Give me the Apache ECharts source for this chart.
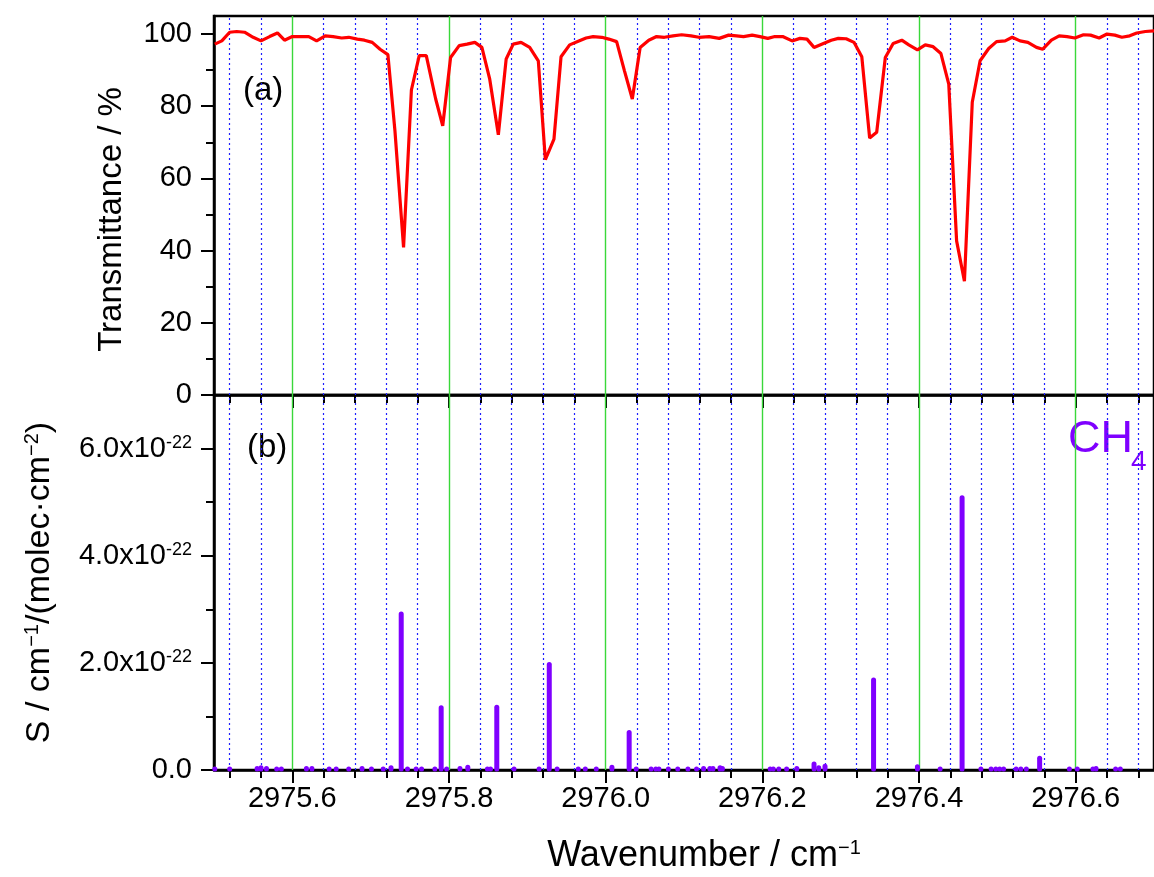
<!DOCTYPE html>
<html><head><meta charset="utf-8">
<script src="https://cdn.jsdelivr.net/npm/echarts@6/dist/echarts.min.js"></script>
<style>html,body{margin:0;padding:0;overflow:hidden;background:#fff}#c{width:1154px;height:877px}</style>
</head><body><div id="c"></div>
<script>
// ---- (a) measured transmittance spectrum ----
const transWavenumber = [
  2975.501, 2975.510, 2975.520, 2975.529, 2975.539, 2975.550, 2975.560, 2975.571, 2975.581, 2975.590,
  2975.600, 2975.611, 2975.621, 2975.631, 2975.642, 2975.652, 2975.663, 2975.672, 2975.683, 2975.692,
  2975.702, 2975.712, 2975.722, 2975.731, 2975.742, 2975.752, 2975.762, 2975.771, 2975.783, 2975.792,
  2975.802, 2975.813, 2975.823, 2975.833, 2975.842, 2975.852, 2975.863, 2975.873, 2975.882, 2975.892,
  2975.903, 2975.914, 2975.923, 2975.934, 2975.943, 2975.954, 2975.965, 2975.975, 2975.984, 2975.995,
  2976.004, 2976.014, 2976.024, 2976.034, 2976.044, 2976.055, 2976.065, 2976.075, 2976.086, 2976.097,
  2976.109, 2976.119, 2976.132, 2976.145, 2976.157, 2976.167, 2976.176, 2976.187, 2976.197, 2976.207,
  2976.216, 2976.226, 2976.238, 2976.248, 2976.257, 2976.266, 2976.278, 2976.288, 2976.297, 2976.307,
  2976.317, 2976.327, 2976.337, 2976.346, 2976.357, 2976.367, 2976.378,
  2976.387, 2976.398, 2976.408, 2976.418, 2976.428, 2976.438, 2976.448, 2976.458, 2976.468, 2976.478,
  2976.489, 2976.499, 2976.510, 2976.519, 2976.529, 2976.539, 2976.550, 2976.558, 2976.569, 2976.579,
  2976.589, 2976.599, 2976.610, 2976.619, 2976.630, 2976.640, 2976.650, 2976.659, 2976.669, 2976.678,
  2976.689, 2976.700
];
const transmittance = [
  97.2, 98.1, 100.5, 100.7, 100.5, 99.1, 98.1, 99.3, 100.3, 98.3,
  99.3, 99.3, 99.3, 98.1, 99.5, 99.3, 98.9, 99.1, 98.6, 98.3,
  97.7, 95.8, 94.3, 73.2, 40.9, 84.5, 94.0, 94.0, 82.0, 74.6,
  93.5, 96.8, 97.2, 97.7, 96.3, 87.5, 72.1, 93.1, 97.2, 97.7,
  96.3, 92.6, 65.2, 70.9, 93.7, 97.0, 98.0, 98.9, 99.3, 99.1,
  98.6, 97.9, 89.8, 82.0, 96.3, 98.3, 99.3, 99.1, 99.5, 99.8,
  99.5, 99.1, 99.3, 98.8, 99.7, 99.5, 99.3, 99.7, 99.3, 98.8,
  99.3, 99.3, 98.1, 98.8, 98.6, 96.3, 97.4, 98.3, 98.8, 98.7,
  97.7, 93.7, 71.2, 72.8, 93.5, 97.4, 98.3,
  97.0, 95.6, 97.0, 96.5, 94.6, 86.1, 42.7, 31.5, 81.1, 92.6,
  96.0, 97.9, 98.1, 99.1, 98.1, 97.7, 96.3, 95.8, 98.3, 99.5,
  99.3, 98.9, 99.8, 99.7, 98.9, 100.0, 99.7, 99.1, 99.5, 100.3,
  100.7, 100.9
];

// ---- (b) CH4 line intensities, in units of 1e-22 cm-1/(molec cm-2) ----
const lineWavenumber = [
  2975.501, 2975.520, 2975.555, 2975.560, 2975.567, 2975.580, 2975.586, 2975.618, 2975.625, 2975.647,
  2975.656, 2975.672, 2975.689, 2975.701, 2975.716, 2975.726, 2975.739, 2975.747, 2975.758, 2975.765,
  2975.782, 2975.790, 2975.797, 2975.814, 2975.824, 2975.849, 2975.853, 2975.861, 2975.883, 2975.915,
  2975.928, 2975.938, 2975.965, 2975.974, 2975.988, 2976.008, 2976.030, 2976.039, 2976.058, 2976.064,
  2976.068, 2976.080, 2976.092, 2976.105, 2976.116, 2976.125, 2976.133, 2976.137, 2976.146, 2976.149,
  2976.210, 2976.214, 2976.221, 2976.231, 2976.244, 2976.266, 2976.272, 2976.280, 2976.342, 2976.398,
  2976.427, 2976.455, 2976.479, 2976.492, 2976.498, 2976.503, 2976.508, 2976.524, 2976.530, 2976.537,
  2976.554, 2976.592, 2976.602, 2976.622, 2976.626, 2976.651, 2976.657
];
const lineStrength = [
  0.02, 0.02, 0.03, 0.04, 0.03, 0.02, 0.02, 0.03, 0.03, 0.02,
  0.02, 0.02, 0.03, 0.02, 0.02, 0.04, 2.91, 0.02, 0.02, 0.02,
  0.02, 1.16, 0.02, 0.03, 0.05, 0.02, 0.02, 1.17, 0.02, 0.02,
  1.97, 0.02, 0.02, 0.02, 0.02, 0.05, 0.70, 0.02, 0.02, 0.02,
  0.02, 0.02, 0.02, 0.02, 0.02, 0.03, 0.03, 0.03, 0.04, 0.03,
  0.02, 0.02, 0.02, 0.02, 0.03, 0.11, 0.04, 0.07, 1.68, 0.06,
  0.02, 5.08, 0.02, 0.02, 0.02, 0.02, 0.02, 0.02, 0.02, 0.02,
  0.22, 0.02, 0.02, 0.02, 0.03, 0.02, 0.02
];

// ---- axis ticks ----
const xMajorTicks = [2975.6, 2975.8, 2976.0, 2976.2, 2976.4, 2976.6];
const xMinorTicks = [2975.52, 2975.56, 2975.64, 2975.68, 2975.72, 2975.76, 2975.84, 2975.88, 2975.92, 2975.96,
  2976.04, 2976.08, 2976.12, 2976.16, 2976.24, 2976.28, 2976.32, 2976.36, 2976.44, 2976.48,
  2976.52, 2976.56, 2976.64, 2976.68];
const yTopMajor = [0, 20, 40, 60, 80, 100];
const yTopMinor = [10, 30, 50, 70, 90];
const yBotMajor = [0, 2, 4, 6];
const yBotMinor = [1, 3, 5];

const FONT = 'Liberation Sans, Arial, sans-serif';
const X_MIN = 2975.5, X_MAX = 2976.7;
const PURPLE = '#7f00ff';

const transData = transWavenumber.map((x, i) => [x, transmittance[i]]);
const lineData = lineWavenumber.map((x, i) => [x, lineStrength[i]]);

function gridLineMarks() {
  const d = [];
  xMinorTicks.forEach(v => d.push({xAxis: v, lineStyle: {color: '#1f1fff', width: 1.2, type: [2, 3]}}));
  xMajorTicks.forEach(v => d.push({xAxis: v, lineStyle: {color: '#3ad83a', width: 1.4, type: 'solid'}}));
  return d;
}

const supRich = {s: {fontFamily: FONT, fontSize: 20, color: '#000', verticalAlign: 'top', padding: [0, 0, 16, 0]}};

function xAxisPair(gridIndex, withLabels) {
  const common = {
    gridIndex, type: 'value', min: X_MIN, max: X_MAX, position: 'bottom',
    splitLine: {show: false}
  };
  return [
    Object.assign({}, common, {
      axisLine: {show: true, lineStyle: {color: '#000', width: 2.5}},
      axisTick: {show: true, inside: false, length: 13, lineStyle: {color: '#000', width: 2}, customValues: xMajorTicks},
      axisLabel: withLabels ? {
        show: true, customValues: xMajorTicks, margin: 14,
        fontFamily: FONT, fontSize: 29, color: '#000',
        formatter: v => v.toFixed(1)
      } : {show: false},
      name: withLabels ? 'Wavenumber / cm{s|−1}' : '',
      nameLocation: 'middle', nameGap: 68,
      nameTextStyle: {fontFamily: FONT, fontSize: 36, color: '#000', padding: [0, 0, 0, 40], rich: supRich}
    }),
    Object.assign({}, common, {
      axisLine: {show: false},
      axisTick: {show: true, inside: false, length: 8, lineStyle: {color: '#000', width: 2}, customValues: xMinorTicks},
      axisLabel: {show: false}
    })
  ];
}

function yAxisPair(gridIndex, max, major, minor, labelFmt, name, nameGap, nameSize, namePad, rich) {
  return [
    {
      gridIndex, type: 'value', min: 0, max, position: 'left',
      splitLine: {show: false},
      axisLine: {show: true, lineStyle: {color: '#000', width: 2.5}},
      axisTick: {show: true, inside: false, length: 13, lineStyle: {color: '#000', width: 2}, customValues: major},
      axisLabel: {show: true, customValues: major, margin: 22, fontFamily: FONT, fontSize: 29, color: '#000',
        formatter: labelFmt, rich},
      name, nameLocation: 'middle', nameGap,
      nameTextStyle: {fontFamily: FONT, fontSize: nameSize, color: '#000', padding: namePad, rich: supRich}
    },
    {
      gridIndex, type: 'value', min: 0, max, position: 'left',
      splitLine: {show: false},
      axisLine: {show: false},
      axisTick: {show: true, inside: false, length: 8, lineStyle: {color: '#000', width: 2}, customValues: minor},
      axisLabel: {show: false}
    }
  ];
}

const chart = echarts.init(document.getElementById('c'), null, {renderer: 'canvas'});
chart.setOption({
  animation: false,
  backgroundColor: '#fff',
  grid: [
    {left: 214, top: 16, width: 948, height: 379, show: true, borderColor: '#000', borderWidth: 2.5, backgroundColor: 'rgba(0,0,0,0)'},
    {left: 214, top: 395, width: 948, height: 375, show: true, borderColor: '#000', borderWidth: 2.5, backgroundColor: 'rgba(0,0,0,0)'}
  ],
  xAxis: [...xAxisPair(0, false), ...xAxisPair(1, true)],
  yAxis: [
    ...yAxisPair(0, 105, yTopMajor, yTopMinor, v => String(v), 'Transmittance / %', 86, 33, [0, 28, 0, 0], undefined),
    ...yAxisPair(1, 7, yBotMajor, yBotMinor,
      v => v === 0 ? '0.0' : '{m|' + v.toFixed(1) + 'x10}{s|-22}',
      'S / cm{s|−1}/(molec·cm{s|−2})', 156, 34, [0, 0, 0, 0],
      {m: {fontFamily: FONT, fontSize: 29, color: '#000'},
       s: {fontFamily: FONT, fontSize: 18, color: '#000', verticalAlign: 'top', padding: [0, 0, 12, 0]}})
  ],
  graphic: [
    {type: 'text', left: 243, top: 74, style: {text: '(a)', fontFamily: FONT, fontSize: 33, fill: '#000'}},
    {type: 'text', left: 247, top: 431, style: {text: '(b)', fontFamily: FONT, fontSize: 33, fill: '#000'}},
    {type: 'text', left: 1068, top: 417, style: {text: 'CH', fontFamily: FONT, fontSize: 45, fill: PURPLE}},
    {type: 'text', left: 1131, top: 448, style: {text: '4', fontFamily: FONT, fontSize: 28, fill: PURPLE}}
  ],
  series: [
    {type: 'line', xAxisIndex: 0, yAxisIndex: 0, data: [], z: 1, silent: true,
      markLine: {silent: true, symbol: ['none', 'none'], label: {show: false}, animation: false, data: gridLineMarks()}},
    {type: 'line', xAxisIndex: 2, yAxisIndex: 2, data: [], z: 1, silent: true,
      markLine: {silent: true, symbol: ['none', 'none'], label: {show: false}, animation: false, data: gridLineMarks()}},
    {type: 'line', name: 'Transmittance', xAxisIndex: 0, yAxisIndex: 0, data: transData, z: 5,
      showSymbol: false, symbol: 'none', lineStyle: {color: '#ff0000', width: 3.2}},
    {type: 'custom', name: 'CH4', xAxisIndex: 2, yAxisIndex: 2, data: lineData, z: 5,
      renderItem: (params, api) => {
        const p0 = api.coord([api.value(0), 0]);
        const p1 = api.coord([api.value(0), api.value(1)]);
        return {type: 'line', shape: {x1: p0[0], y1: p0[1] - 1, x2: p1[0], y2: p1[1]},
          style: {stroke: PURPLE, lineWidth: 5, lineCap: 'round'}};
      }}
  ]
});
</script></body></html>
